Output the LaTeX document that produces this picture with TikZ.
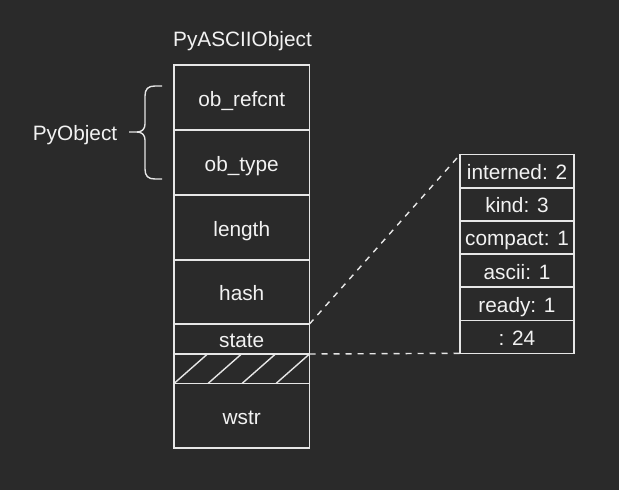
\documentclass[tikz,border=0pt]{standalone}
\usepackage{fontspec}
\setmainfont{Liberation Sans}
\definecolor{bgc}{HTML}{2A2A2A}
\definecolor{linec}{HTML}{E6E6E6}
\definecolor{textc}{HTML}{F2F2F2}
\begin{document}
\begin{tikzpicture}[x=1pt,y=-1pt,
  every node/.style={text=textc,font=\fontsize{20.8}{25}\selectfont,text height=19pt,text depth=2pt},
  cell/.style={draw=linec,line width=1.4pt,minimum width=135.5pt,inner sep=0pt,outer sep=0pt,anchor=north west},
  bit/.style={draw=linec,line width=1.4pt,minimum width=114pt,minimum height=33.1pt,inner sep=0pt,outer sep=0pt,anchor=north west},
  thin/.style={draw=linec,line width=1.4pt},
  dashline/.style={draw=linec,line width=1.4pt,dash pattern=on 6pt off 6pt}]
\fill[bgc] (0,0) rectangle (619,490);
\useasboundingbox (0,0) rectangle (619,490);
\node (title) at (242.5,37.5) {PyASCIIObject};
\node[cell,minimum height=65pt] (refcnt) at (174,65) {ob\_refcnt};
\node[cell,minimum height=65pt] (type) at (refcnt.south west) {ob\_type};
\node[cell,minimum height=65pt] (length) at (type.south west) {length};
\node[cell,minimum height=64pt] (hash) at (length.south west) {hash};
\node[cell,minimum height=30pt] (state) at (hash.south west) {state};
\node[cell,minimum height=29.5pt] (pad) at (state.south west) {};
\node[cell,minimum height=64.5pt] (wstr) at (pad.south west) {wstr};
\foreach \k in {0,1,2,3}
  \draw[thin] ([xshift={34*\k}]pad.south west) -- ([xshift={33.5+34*\k}]pad.north west);
\node[bit] (interned) at (460,154.7) {interned: 2};
\node[bit] (kind) at (interned.south west) {kind: 3};
\node[bit] (compact) at (kind.south west) {compact: 1};
\node[bit] (ascii) at (compact.south west) {ascii: 1};
\node[bit] (ready) at (ascii.south west) {ready: 1};
\node[bit] (rest) at (ready.south west) {: 24};
\draw[dashline] (state.north east) -- (interned.north west);
\draw[dashline] (state.south east) -- (rest.south west);
\node (pyobj) at (75,132.2) {PyObject};
\draw[thin] (162,86) -- (155,86) .. controls (148,86) and (145,89) .. (145,96) -- (145,124)
  .. controls (145,129) and (142,132) .. (137,132) -- (129,132);
\draw[thin] (137,132) .. controls (142,132) and (145,135) .. (145,140) -- (145,169)
  .. controls (145,176) and (148,179) .. (155,179) -- (162,179);
\end{tikzpicture}
\end{document}
